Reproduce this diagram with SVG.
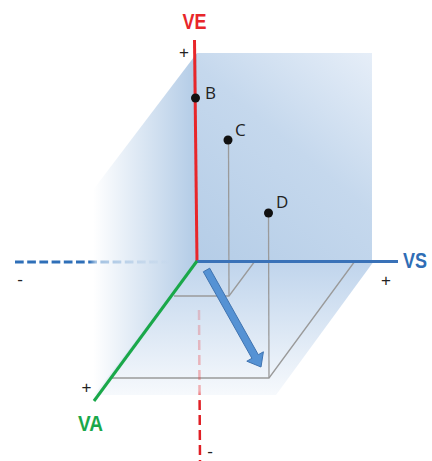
<svg xmlns="http://www.w3.org/2000/svg" width="432" height="461" viewBox="0 0 432 461">
<defs>
<linearGradient id="gBack" gradientUnits="userSpaceOnUse" x1="197" y1="261" x2="372" y2="53">
<stop offset="0" stop-color="#b5cde7"/>
<stop offset="0.55" stop-color="#c5d8ed"/>
<stop offset="1" stop-color="#e6eef8"/>
</linearGradient>
<linearGradient id="gLeft" gradientUnits="userSpaceOnUse" x1="93" y1="0" x2="197" y2="0">
<stop offset="0" stop-color="#b2cbe6" stop-opacity="0"/>
<stop offset="1" stop-color="#b2cbe6" stop-opacity="1"/>
</linearGradient>
<linearGradient id="gFloor" gradientUnits="userSpaceOnUse" x1="0" y1="261" x2="0" y2="400">
<stop offset="0" stop-color="#bcd2eb" stop-opacity="0.95"/>
<stop offset="1" stop-color="#bcd2eb" stop-opacity="0.1"/>
</linearGradient>
<linearGradient id="gDashL" gradientUnits="userSpaceOnUse" x1="15" y1="0" x2="170" y2="0">
<stop offset="0" stop-color="#2f6fb8"/>
<stop offset="0.48" stop-color="#2f6fb8"/>
<stop offset="0.52" stop-color="#9fbfe0"/>
<stop offset="1" stop-color="#9fbfe0" stop-opacity="0"/>
</linearGradient>
<linearGradient id="gDashR" gradientUnits="userSpaceOnUse" x1="0" y1="305" x2="0" y2="461">
<stop offset="0" stop-color="#e8262a" stop-opacity="0.2"/>
<stop offset="0.55" stop-color="#e8262a" stop-opacity="0.35"/>
<stop offset="0.62" stop-color="#e01e24"/>
<stop offset="1" stop-color="#e01e24"/>
</linearGradient>
<style>
.proj{fill:none;stroke:#9a9a9a;stroke-width:1.3}
.dot{fill:#111}
.pt{font-family:"Open Sans","Liberation Sans",sans-serif;font-size:17px;fill:#222}
.sign{font-family:"Liberation Sans",Arial,sans-serif;font-size:17px;fill:#222;text-anchor:middle}
.ax{font-family:"Liberation Sans Narrow","Liberation Sans",Arial,sans-serif;font-size:22px;font-weight:bold}
</style>
</defs>
<g id="planes">
<polygon points="197,53 93,190 93,400 197,261" fill="url(#gLeft)"/>
<rect x="197" y="53" width="175" height="208" fill="url(#gBack)"/>
<polygon points="197,261 374,261 276,395 94,395" fill="url(#gFloor)"/>
</g>
<g id="connectors">
<polyline class="proj" points="174,296 229,296 255,261"/>
<line class="proj" x1="228.5" y1="140" x2="229" y2="296"/>
<polyline class="proj" points="111,378 269,378 355,261"/>
<line class="proj" x1="268.5" y1="213" x2="269" y2="378"/>
<line x1="15" y1="262" x2="170" y2="262" stroke="url(#gDashL)" stroke-width="3" stroke-dasharray="8.7 3.5"/>
<line x1="199" y1="310" x2="200" y2="461" stroke="url(#gDashR)" stroke-width="2.5" stroke-dasharray="10 5"/>
<line id="axis-VE" x1="194.5" y1="40" x2="197" y2="262" stroke="#e8262a" stroke-width="3"/>
<line id="axis-VS" x1="197" y1="261.5" x2="398" y2="261.5" stroke="#3a72b8" stroke-width="3"/>
<line id="axis-VA" x1="197" y1="261" x2="94" y2="401" stroke="#1aa84a" stroke-width="3"/>
<polygon id="arrow" points="209.7,268.2 258.3,354.7 263.4,351.8 261,367 246.8,361.2 251.9,358.3 203.3,271.8" fill="#5592d4" stroke="#3f73b0" stroke-width="1"/>
</g>
<g id="node-B"><circle class="dot" cx="195.5" cy="98" r="4.5"/><text class="pt" x="205" y="99">B</text></g>
<g id="node-C"><circle class="dot" cx="228" cy="140" r="4.5"/><text class="pt" x="235" y="136">C</text></g>
<g id="node-D"><circle class="dot" cx="268.5" cy="213" r="4.5"/><text class="pt" x="276" y="208">D</text></g>
<g id="labels">
<text class="ax" x="194.5" y="29" fill="#e8262a" text-anchor="middle" textLength="24" lengthAdjust="spacingAndGlyphs">VE</text>
<text class="ax" x="403" y="268" fill="#2f6db5" textLength="24" lengthAdjust="spacingAndGlyphs">VS</text>
<text class="ax" x="78" y="431" fill="#1aa84a" textLength="25" lengthAdjust="spacingAndGlyphs">VA</text>
<text class="sign" x="184" y="58">+</text>
<text class="sign" x="386" y="286">+</text>
<text class="sign" x="86.5" y="393">+</text>
<text class="sign" x="20" y="285">-</text>
<text class="sign" x="210" y="457">-</text>
</g>
</svg>
